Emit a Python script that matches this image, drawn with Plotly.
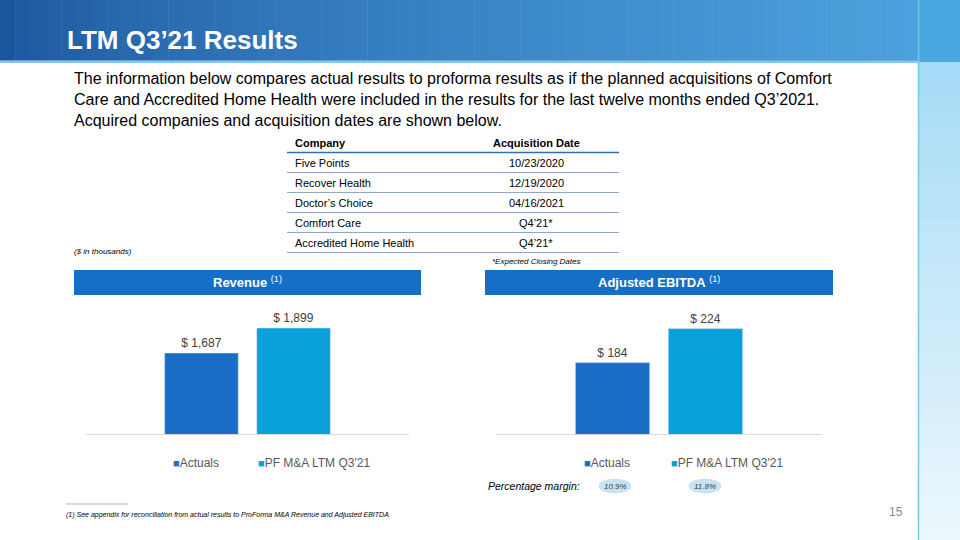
import plotly.graph_objects as go

W, H = 960, 540

# data
series_names = ["Actuals", "PF M&A LTM Q3'21"]
revenue_values = [1687, 1899]
ebitda_values = [184, 224]
margin_labels = ["10.9%", "11.8%"]
companies = ["Five Points", "Recover Health", "Doctor’s Choice", "Comfort Care", "Accredited Home Health"]
acq_dates = ["10/23/2020", "12/19/2020", "04/16/2021", "Q4’21*", "Q4’21*"]

COLOR_ACT = "#1a6ec6"
COLOR_PF = "#0aa0db"
COLOR_HDR = "#166fc6"
FONT = "Liberation Sans, Arial, sans-serif"


def px(x):
    return x / W


def py(y):
    return 1 - y / H


def lerp(c1, c2, t):
    return "rgb(%d,%d,%d)" % tuple(round(a + (b - a) * t) for a, b in zip(c1, c2))


fig = go.Figure()

bar_colors = [COLOR_ACT, COLOR_PF]
for i, name in enumerate(series_names):
    fig.add_trace(go.Bar(x=["LTM"], y=[revenue_values[i]], name=name, marker_color=bar_colors[i],
                         text=[f"$ {revenue_values[i]:,}"], textposition="outside",
                         textfont=dict(size=12, color="#404040", family=FONT),
                         xaxis="x", yaxis="y", showlegend=False, hoverinfo="skip"))
for i, name in enumerate(series_names):
    fig.add_trace(go.Bar(x=["LTM"], y=[ebitda_values[i]], name=name, marker_color=bar_colors[i],
                         text=[f"$ {ebitda_values[i]:,}"], textposition="outside",
                         textfont=dict(size=12, color="#404040", family=FONT),
                         xaxis="x2", yaxis="y2", showlegend=False, hoverinfo="skip"))

shapes = []
# header gradient band
n = 60
for k in range(n):
    x0 = 918 * k / n
    x1 = 918 * (k + 1) / n + 0.5
    shapes.append(dict(type="rect", xref="paper", yref="paper", x0=px(x0), x1=px(x1), y0=py(61), y1=py(0),
                       fillcolor=lerp((28, 86, 158), (76, 162, 220), min(1, (k / n) ** 0.7)), line_width=0, layer="below"))
shapes.append(dict(type="rect", xref="paper", yref="paper", x0=px(0), x1=px(918), y0=py(63), y1=py(60),
                   fillcolor="rgba(110,180,230,0.8)", line_width=0, layer="below"))
# right strip
shapes.append(dict(type="rect", xref="paper", yref="paper", x0=px(918), x1=1, y0=py(62), y1=1,
                   fillcolor="#4aa8e0", line_width=0, layer="below"))
m = 30
for k in range(m):
    y0 = 62 + (H - 62) * k / m
    y1 = 62 + (H - 62) * (k + 1) / m + 0.5
    shapes.append(dict(type="rect", xref="paper", yref="paper", x0=px(918), x1=1, y0=py(y1), y1=py(y0),
                       fillcolor=lerp((166, 219, 246), (238, 248, 253), k / m), line_width=0, layer="below"))
shapes.append(dict(type="line", xref="paper", yref="paper", x0=px(918.5), x1=px(918.5), y0=0, y1=py(0),
                   line=dict(color="#78c8e2", width=1.5)))

# table lines
shapes.append(dict(type="line", xref="paper", yref="paper", x0=px(287), x1=px(619), y0=py(152.5), y1=py(152.5),
                   line=dict(color="#2f6fb3", width=1.5)))
for r in range(len(companies)):
    yl = 172.5 + 20 * r
    shapes.append(dict(type="line", xref="paper", yref="paper", x0=px(287), x1=px(619), y0=py(yl), y1=py(yl),
                       line=dict(color="#8fa8c8", width=1.2)))

# section header bars
for x0, x1 in [(74, 421), (485, 833)]:
    shapes.append(dict(type="rect", xref="paper", yref="paper", x0=px(x0), x1=px(x1), y0=py(295), y1=py(270),
                       fillcolor=COLOR_HDR, line_width=0))

# margin ellipses
for cx in [615, 705]:
    shapes.append(dict(type="circle", xref="paper", yref="paper", x0=px(cx - 16), x1=px(cx + 16),
                       y0=py(493), y1=py(479), fillcolor="#c9e3f5", line=dict(color="#b5d7ef", width=0.5)))

# footnote rule
shapes.append(dict(type="line", xref="paper", yref="paper", x0=px(66), x1=px(128), y0=py(504), y1=py(504),
                   line=dict(color="#a0a0a0", width=0.8)))

ann = []


def text(x, y, s, size, color="#000000", xanchor="left", bold=False, italic=False):
    if bold:
        s = f"<b>{s}</b>"
    if italic:
        s = f"<i>{s}</i>"
    ann.append(dict(x=px(x), y=py(y), xref="paper", yref="paper", text=s, showarrow=False,
                    xanchor=xanchor, yanchor="middle", align="left",
                    font=dict(size=size, color=color, family=FONT)))


text(65, 40, "LTM Q3’21 Results", 26, "#ffffff", bold=True)
para = ["The information below compares actual results to proforma results as if the planned acquisitions of Comfort",
        "Care and Accredited Home Health were included in the results for the last twelve months ended Q3’2021.",
        "Acquired companies and acquisition dates are shown below."]
for i, line in enumerate(para):
    text(72, 79 + 20.5 * i, line, 16)

text(293, 143, "Company", 11, bold=True)
text(536, 143, "Acquisition Date", 11, xanchor="center", bold=True)
for r, (c, d) in enumerate(zip(companies, acq_dates)):
    text(293, 163 + 20 * r, c, 11)
    text(536, 163 + 20 * r, d, 11, xanchor="center")
text(536, 261, "*Expected Closing Dates", 8, xanchor="center", italic=True)
text(72, 251, "($ in thousands)", 8, italic=True)

text(247.5, 282, "<b>Revenue</b> <sup>(1)</sup>", 13, "#ffffff", xanchor="center")
text(659, 282, "<b>Adjusted EBITDA</b> <sup>(1)</sup>", 13, "#ffffff", xanchor="center")

# legends
for lx in [(171, 256), (582, 669)]:
    for i, name in enumerate(series_names):
        text(lx[i], 463, f"<span style='color:{bar_colors[i]};font-size:11px'>■</span>{name}", 12, "#595959")

text(486, 486, "Percentage margin:", 10.5, italic=True)
for cx, lab in zip([615, 705], margin_labels):
    text(cx, 486, lab, 8, "#404040", xanchor="center", italic=True)

text(64, 515, "(1) See appendix for reconciliation from actual results to ProForma M&A Revenue and Adjusted EBITDA",
     7, italic=True)
text(905, 512, "15", 12, "#8c8c8c", xanchor="right")

y_dom = [py(434), py(300)]
axis_common = dict(showgrid=False, zeroline=False, showticklabels=False, ticks="")
fig.update_layout(
    width=W, height=H, margin=dict(l=0, r=0, t=0, b=0),
    paper_bgcolor="#ffffff", plot_bgcolor="rgba(0,0,0,0)",
    barmode="group", bargap=0.43, bargroupgap=0.2,
    font=dict(family=FONT),
    xaxis=dict(domain=[px(86), px(409)], anchor="y", range=[-0.5, 0.5], showline=True,
               linecolor="#d9d9d9", linewidth=1, **axis_common),
    yaxis=dict(domain=y_dom, anchor="x", range=[1000, 1000 + 134 / 0.1179], showline=False, **axis_common),
    xaxis2=dict(domain=[px(496), px(822)], anchor="y2", range=[-0.5, 0.5], showline=True,
                linecolor="#d9d9d9", linewidth=1, **axis_common),
    yaxis2=dict(domain=y_dom, anchor="x2", range=[100, 100 + 134 / 0.85], showline=False, **axis_common),
    shapes=shapes, annotations=ann,
)

fig.write_html("out.html", config={"displayModeBar": False},
               post_script="document.body.style.margin='0';document.body.style.overflow='hidden';")
